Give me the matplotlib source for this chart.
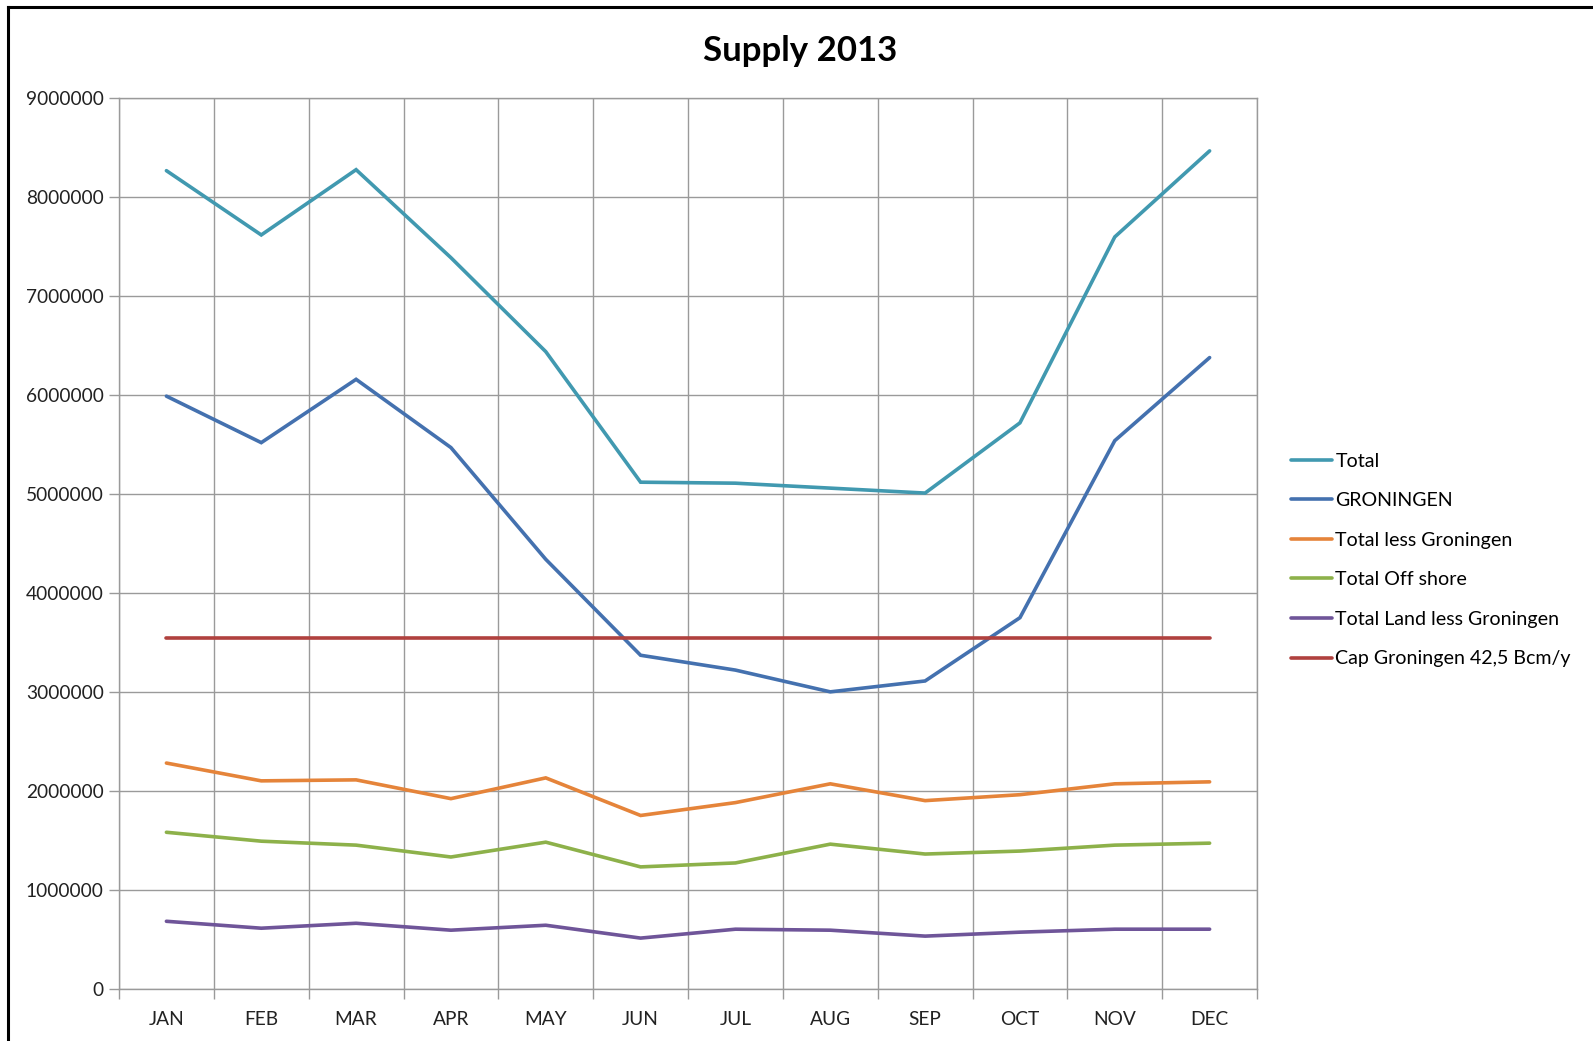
import matplotlib
matplotlib.use("Agg")
import matplotlib.pyplot as plt
from matplotlib.lines import Line2D
import numpy as np

months = ["JAN", "FEB", "MAR", "APR", "MAY", "JUN", "JUL", "AUG", "SEP", "OCT", "NOV", "DEC"]
total = [8.27e6, 7.62e6, 8.28e6, 7.39e6, 6.44e6, 5.12e6, 5.11e6, 5.06e6, 5.01e6, 5.72e6, 7.60e6, 8.47e6]
groningen = [5.99e6, 5.52e6, 6.16e6, 5.47e6, 4.34e6, 3.37e6, 3.22e6, 3.00e6, 3.11e6, 3.75e6, 5.54e6, 6.38e6]
total_less_gron = [2.28e6, 2.10e6, 2.11e6, 1.92e6, 2.13e6, 1.75e6, 1.88e6, 2.07e6, 1.90e6, 1.96e6, 2.07e6, 2.09e6]
offshore = [1.58e6, 1.49e6, 1.45e6, 1.33e6, 1.48e6, 1.23e6, 1.27e6, 1.46e6, 1.36e6, 1.39e6, 1.45e6, 1.47e6]
land_less_gron = [0.68e6, 0.61e6, 0.66e6, 0.59e6, 0.64e6, 0.51e6, 0.60e6, 0.59e6, 0.53e6, 0.57e6, 0.60e6, 0.60e6]
cap = [3.54e6] * 12
yticks = [0, 1000000, 2000000, 3000000, 4000000, 5000000, 6000000, 7000000, 8000000, 9000000]

series = [
    ("Total", total, "#4199B0"),
    ("GRONINGEN", groningen, "#4471AF"),
    ("Total less Groningen", total_less_gron, "#E5843A"),
    ("Total Off shore", offshore, "#8DB14A"),
    ("Total Land less Groningen", land_less_gron, "#6F5599"),
    ("Cap Groningen 42,5 Bcm/y", cap, "#B0413E"),
]

plt.rcParams['font.family'] = ['Lato', 'DejaVu Sans']

fig = plt.figure(figsize=(15.93, 10.41), dpi=100)
ax = fig.add_axes([0.0747, 0.0504, 0.7144, 0.8550])

x = np.arange(len(months))
for name, vals, col in series:
    ax.plot(x, vals, color=col, lw=2.6, label=name, solid_capstyle='round', solid_joinstyle='miter')

ax.set_xlim(-0.5, 11.5)
ax.set_ylim(0, 9000000)
ax.set_yticks(yticks)
ax.set_yticklabels([str(v) for v in yticks])
ax.set_xticks(np.arange(-0.5, 12, 1))
ax.set_xticklabels([])
ax.set_xticks(x, minor=True)
ax.set_xticklabels(months, minor=True)
ax.tick_params(axis='x', which='major', length=7, color='#9a9a9a', width=1)
ax.tick_params(axis='x', which='minor', length=0, pad=16, labelsize=13.8, labelcolor='#222222')
ax.tick_params(axis='y', length=7, color='#9a9a9a', width=1, labelsize=13.8, labelcolor='#222222', pad=4)
ax.grid(True, which='major', color='#9a9a9a', lw=1)
ax.set_axisbelow(True)
for s in ax.spines.values():
    s.set_color('#9a9a9a')
    s.set_linewidth(1)

fig.text(0.502, 0.951, "Supply 2013", ha='center', va='center', fontsize=25, fontweight='bold')

leg = fig.legend(loc='center left', bbox_to_anchor=(0.7995, 0.462), frameon=False,
                 fontsize=14.1, handlelength=2.1, handletextpad=0.15, labelspacing=1.15)

fig.add_artist(Line2D([0.0053, 0.0053], [0, 0.9935], color='black', lw=2.2, transform=fig.transFigure))
fig.add_artist(Line2D([0.0053, 1.0], [0.9935, 0.9935], color='black', lw=2.2, transform=fig.transFigure))

fig.savefig("out.png", dpi=100, facecolor='white')
